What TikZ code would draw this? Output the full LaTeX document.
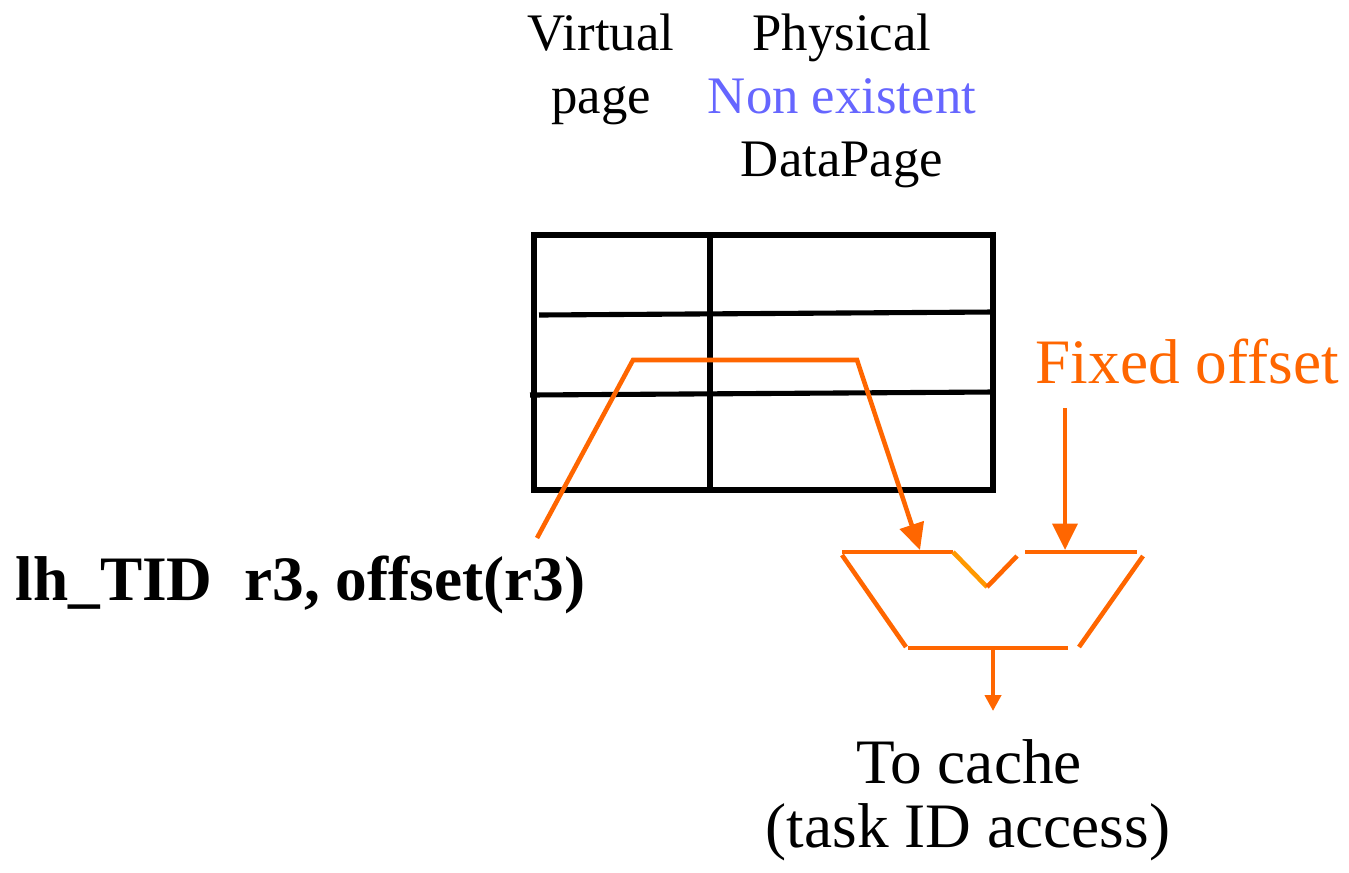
\documentclass[tikz,border=0pt]{standalone}
\usepackage{fontspec}
\setmainfont{Liberation Serif}
\usetikzlibrary{arrows.meta}
\definecolor{wireorange}{HTML}{FF6600}
\definecolor{notchorange}{HTML}{FF9900}
\definecolor{softblue}{HTML}{6666FF}
\begin{document}
\begin{tikzpicture}[x=0.01cm,y=-0.01cm,
  txt/.style={inner sep=0pt, anchor=base, font=\fontsize{15}{18}\selectfont},
  bigtxt/.style={inner sep=0pt, anchor=base west, font=\fontsize{18}{21}\selectfont},
  grid/.style={line width=1.45pt, black},
  wire/.style={line width=1.3pt, wireorange},
  bigtip/.style={-{Triangle[length=7.5pt,width=7pt]}},
  smalltip/.style={-{Triangle[length=4.5pt,width=4.5pt]}}]
\useasboundingbox (0,0) rectangle (1349,872);

% column headings
\node[txt] (virt1) at (601,50) {Virtual};
\node[txt] (virt2) at (601,113) {page};
\node[txt] (phys1) at (842,50) {Physical};
\node[txt, text=softblue] (phys2) at (842,113) {Non existent};
\node[txt] (phys3) at (842,176) {DataPage};

% page table
\draw[grid] (534,235) rectangle (993,490);
\draw[grid] (710,235) -- (710,490);
\draw[grid] (539,315) -- (993,312);
\draw[grid] (530,395) -- (993,392);

% instruction and offset labels
\node[bigtxt, font=\fontsize{18}{21}\selectfont\bfseries] (instr) at (15,600) {lh\_TID\ \ r3, offset(r3)};
\node[bigtxt, text=wireorange] (fixed) at (1035,383) {Fixed offset};

% adder ends
\coordinate (instrEnd) at (537,538);
\coordinate (fixedFoot) at (1065,408);
\coordinate (addA) at (920,550);
\coordinate (addB) at (1065,550);
\coordinate (addOut) at (993,648);
\coordinate (outTip) at (993,711);

% adder outline
\draw[wire] (842,552) -- (953,552);
\draw[line width=1.3pt, notchorange] (953,552) -- (987,587);
\draw[wire] (987,587) -- (1017,556);
\draw[wire] (1025,552) -- (1137,552);
\draw[wire] (842,555) -- (906,647);
\draw[wire] (908,648) -- (1068,648);
\draw[wire] (1143,556) -- (1079,647);

% wires
\draw[wire, bigtip] (instrEnd) -- (633,360) -- (857,360) -- (addA);
\draw[wire, bigtip] (fixedFoot) -- (addB);
\draw[wire, smalltip] (addOut) -- (outTip);

% output label
\node[txt, font=\fontsize{18}{21}\selectfont] (out1) at (969,783) {To cache};
\node[txt, font=\fontsize{18}{21}\selectfont] (out2) at (968,847) {(task ID access)};
\end{tikzpicture}
\end{document}
